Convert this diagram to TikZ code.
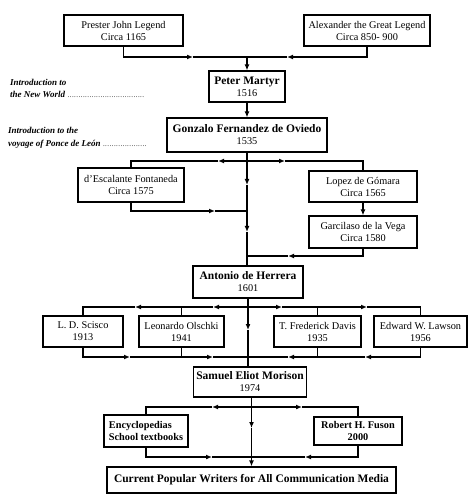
\documentclass[tikz,border=0pt]{standalone}
\usepackage{fontspec}
\setmainfont{Liberation Serif}
\usetikzlibrary{arrows.meta}
\newcommand\bname[1]{{\fontsize{11.5}{12}\selectfont\bfseries #1}}
\newcommand\dotsto{\leaders\hbox to 2.2pt{\hss\normalfont\fontsize{7}{7}\selectfont.\hss}\hfill}
\begin{document}
\begin{tikzpicture}[x=1pt,y=-1pt,
  box/.style={draw, line width=1.2pt, align=center, inner sep=0pt, font=\fontsize{10.3}{12}\selectfont},
  bx/.style 2 args={minimum width=#1pt, minimum height=#2pt},
  ln/.style={line width=1.2pt},
  ar/.style={line width=1.2pt, -{Latex[length=6pt,width=5pt]}},
  lab/.style={inner sep=0pt, anchor=base west, font=\fontsize{9}{10}\selectfont\bfseries\itshape}
]
\useasboundingbox (0,0) rectangle (474,502);
% boxes
\node[box,bx={119}{31}] (pj) at (123.5,30.5) {Prester John Legend\\Circa 1165};
\node[box,bx={126}{31}] (alex) at (367,30.5) {Alexander the Great Legend\\Circa 850- 900};
\node[box,bx={76}{31}] (pm) at (247,86.5) {\bname{Peter Martyr}\\1516};
\node[box,bx={160}{34}] (gon) at (247,135) {\bname{Gonzalo Fernandez de Oviedo}\\1535};
\node[box,bx={106}{34}] (esc) at (131,185) {d’Escalante Fontaneda\\Circa 1575};
\node[box,bx={108}{31}] (lop) at (363,186.5) {Lopez de Gómara\\Circa 1565};
\node[box,bx={108}{32}] (gar) at (363,232) {Garcilaso de la Vega\\Circa 1580};
\node[box,bx={110}{32}] (ant) at (248,282) {\bname{Antonio de Herrera}\\1601};
\node[box,bx={80}{31}] (sci) at (83,331.5) {L. D. Scisco\\1913};
\node[box,bx={85}{31}] (ols) at (181.5,331.5) {Leonardo Olschki\\1941};
\node[box,bx={87}{31}] (dav) at (317.5,331.5) {T. Frederick Davis\\1935};
\node[box,bx={93}{31}] (law) at (420.5,331.5) {Edward W. Lawson\\1956};
\node[box,bx={113}{30}] (sam) at (250,382) {\bname{Samuel Eliot Morison}\\1974};
\node[box,bx={84}{32},align=left] (enc) at (146,431) {\textbf{Encyclopedias}\\\textbf{School textbooks}};
\node[box,bx={88}{28}] (fus) at (358,431) {\textbf{Robert H. Fuson}\\\textbf{2000}};
\node[box,bx={289}{26}] (cur) at (251.5,480) {\bname{Current Popular Writers for All Communication Media}};
% side labels
\node[lab] (l1) at (10,86) {Introduction to};
\node[lab] (l2) at (10,98) {\makebox[135pt][l]{the New World\,\dotsto}};
\node[lab] (l3) at (8,134) {Introduction to the};
\node[lab] (l4) at (8,147) {\makebox[140pt][l]{voyage of Ponce de León\,\dotsto}};
% top merge
\coordinate (j1) at (247,57);
\draw[ar] (pj.south) |- (193,57); \draw[ln] (193,57) -- (j1);
\draw[ar] (alex.south) |- (287,57); \draw[ln] (287,57) -- (j1);
\draw[ar] (j1) -- (pm.north);
\draw[ar] (pm.south) -- (gon.north);
% gonzalo branch
\coordinate (g1) at (247,161);
\draw[ar] (g1) -- (218,161); \draw[ln] (218,161) -| (esc.north);
\draw[ar] (g1) -- (285,161); \draw[ln] (285,161) -| (lop.north);
\draw[ar] (gon.south) -- (247,185); \draw[ar] (247,185) -- (247,232); \draw[ln] (247,232) -- (247,266);
\draw[ar] (esc.south) |- (215,211); \draw[ln] (215,211) -- (247,211);
\draw[ar] (lop.south) -- (gar.north);
\draw[ar] (gar.south) |- (288,256); \draw[ln] (288,256) -- (247,256);
% antonio branch
\coordinate (a1) at (248,307);
\draw[ar] (a1) -- (213,307); \draw[ar] (213,307) -- (135,307); \draw[ln] (135,307) -| (sci.north);
\draw[ln] (ols.north) -- (ols.north |- a1);
\draw[ar] (a1) -- (282,307); \draw[ar] (282,307) -- (367,307); \draw[ln] (367,307) -| (law.north);
\draw[ln] (dav.north) -- (dav.north |- a1);
\draw[ar] (ant.south) -- (248,330); \draw[ln] (248,330) -- (ant.south |- sam.north);
\draw[ar] (sci.south) |- (130,357); \draw[ar] (130,357) -- (213,357); \draw[ln] (213,357) -- (248,357);
\draw[ln] (ols.south) -- (ols.south |- 0,357);
\draw[ar] (law.south) |- (365,357); \draw[ar] (365,357) -- (288,357); \draw[ln] (288,357) -- (248,357);
\draw[ln] (dav.south) -- (dav.south |- 0,357);
% samuel branch
\coordinate (s1) at (251.5,407);
\draw[ar] (s1) -- (212,407); \draw[ln] (212,407) -| (enc.north);
\draw[ar] (s1) -- (302,407); \draw[ln] (302,407) -| (fus.north);
\draw[ar] (sam.south -| s1) -- (251.5,428); \draw[ar] (251.5,428) -- (cur.north);
\draw[ar] (enc.south) |- (212,457); \draw[ln] (212,457) -- (251.5,457);
\draw[ar] (fus.south) |- (305,457); \draw[ln] (305,457) -- (251.5,457);
\end{tikzpicture}
\end{document}
